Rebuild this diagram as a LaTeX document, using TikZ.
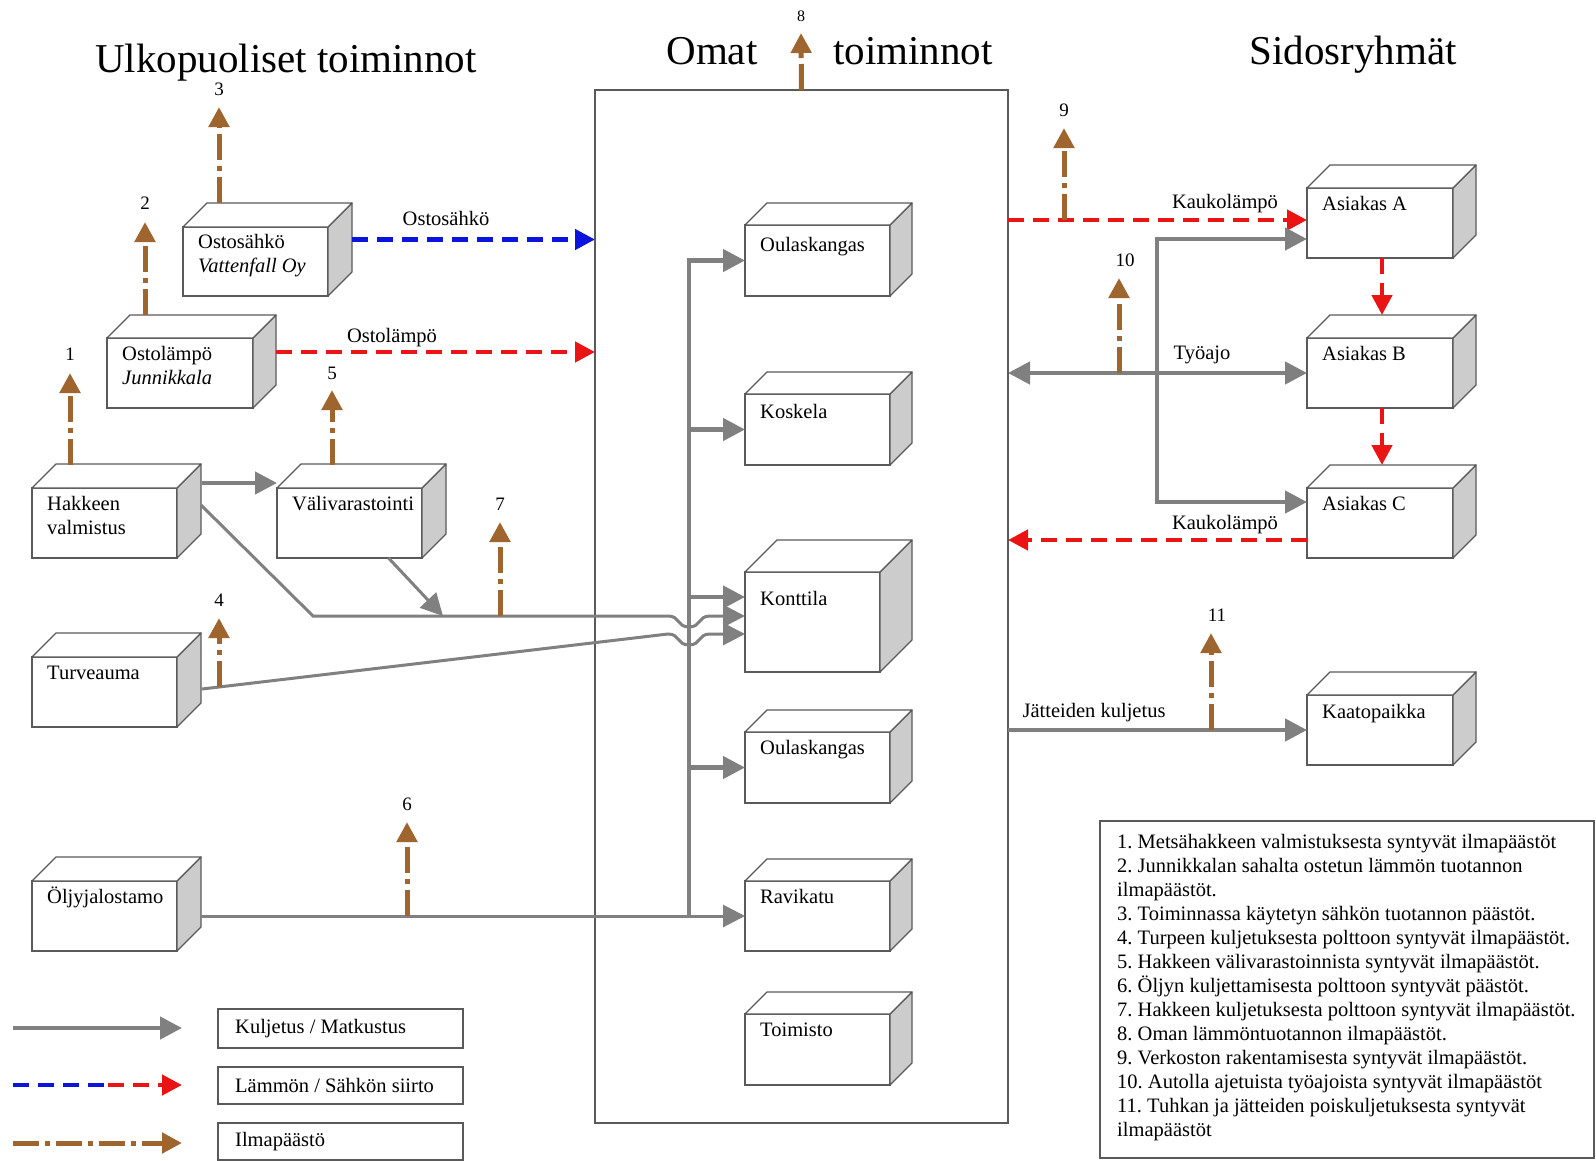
\documentclass[tikz,border=0pt]{standalone}
\usepackage{fontspec}
\setmainfont{Liberation Serif}
\usetikzlibrary{arrows.meta,calc}
\frenchspacing

\definecolor{tgray}{RGB}{128,128,128}
\definecolor{hred}{RGB}{235,20,20}
\definecolor{eblue}{RGB}{10,20,220}
\definecolor{ebrown}{RGB}{158,101,47}
\definecolor{sidegray}{RGB}{204,204,204}
\definecolor{edgegray}{RGB}{90,90,90}

\newcommand\labelfont{\fontsize{20.5pt}{24pt}\selectfont}
\newcommand\numfont{\fontsize{19pt}{22pt}\selectfont}
\newcommand\titlefont{\fontsize{41pt}{48pt}\selectfont}

% 3-D box: #1 name, #2 left, #3 top, #4 width, #5 height, #6 depth,
% #7 offset of the last text baseline below the top edge, #8 text
\newcommand\cubebox[8]{%
  \node[cubefront, minimum width=#4, minimum height=#5] (#1) at (#2,#3) {};
  \filldraw[cubeedge, fill=sidegray] (#1.north east) -- ++(#6,-#6)
     -- ([shift={(#6,-#6)}]#1.south east) -- (#1.south east) -- cycle;
  \filldraw[cubeedge, fill=white] (#1.north west) -- ++(#6,-#6)
     -- ([shift={(#6,-#6)}]#1.north east) -- (#1.north east) -- cycle;
  \node[cubetext] (#1-t) at ([shift={(15,#7)}]#1.north west) {#8};
}

\begin{document}
\begin{tikzpicture}[x=1pt,y=-1pt,
  cubefront/.style={draw=edgegray, line width=1.3pt, fill=white, inner sep=0pt,
                    outer sep=0pt, anchor=north west},
  cubeedge/.style={draw=edgegray, line width=1.3pt, line join=round},
  cubetext/.style={anchor=base west, align=left, inner sep=0pt, font=\labelfont},
  trans/.style={draw=tgray, line width=4.5pt, >={Triangle[length=22pt,width=22pt]}, ->},
  transthin/.style={trans, line width=3pt},
  heat/.style={draw=hred, line width=4.5pt, dash pattern=on 16pt off 9pt,
               >={Triangle[length=20pt,width=20pt]}, ->},
  elec/.style={heat, draw=eblue},
  emis/.style={draw=ebrown, line width=5pt, dash pattern=on 26pt off 6pt on 5pt off 6pt,
               >={Triangle[length=20pt,width=20pt]}, ->},
  num/.style={anchor=base, inner sep=0pt, font=\numfont},
  lbl/.style={anchor=base, inner sep=0pt, font=\labelfont},
  title/.style={anchor=base, inner sep=0pt, font=\titlefont},
  legbox/.style={draw=edgegray, line width=1.3pt, inner sep=0pt, outer sep=0pt,
                 anchor=north west},
]
\useasboundingbox (0,0) rectangle (1596,1160);
\fill[white] (0,0) rectangle (1596,1160);

% headings
\node[title] (h-ext) at (286,72) {Ulkopuoliset toiminnot};
\node[title] (h-own1) at (712,64) {Omat};
\node[title] (h-own2) at (913,64) {toiminnot};
\node[title] (h-grp) at (1353,64) {Sidosryhmät};

% own operations frame
\node[draw=edgegray, line width=1.3pt, minimum width=413, minimum height=1033,
      inner sep=0pt, outer sep=0pt, anchor=north west] (own) at (595,90) {};

% external units
\cubebox{ostos}{183}{227}{145}{69}{24}{45}{Ostosähkö\\\textit{Vattenfall Oy}}
\cubebox{ostol}{107}{338}{146}{70}{23}{46}{Ostolämpö\\\textit{Junnikkala}}
\cubebox{hak}{32}{488}{145}{70}{24}{46}{Hakkeen\\valmistus}
\cubebox{vali}{277}{488}{145}{70}{24}{22}{Välivarastointi}
\cubebox{turve}{32}{657}{145}{70}{24}{22}{Turveauma}
\cubebox{olj}{32}{881}{145}{70}{24}{22}{Öljyjalostamo}

% own plants
\cubebox{oul1}{745}{225}{145}{71}{22}{26}{Oulaskangas}
\cubebox{kosk}{745}{394}{145}{71}{22}{24}{Koskela}
\cubebox{kont}{745}{572}{135}{100}{32}{33}{Konttila}
\cubebox{oul2}{745}{732}{145}{71}{22}{22}{Oulaskangas}
\cubebox{rav}{745}{881}{145}{70}{22}{22}{Ravikatu}
\cubebox{toim}{745}{1014}{145}{71}{22}{22}{Toimisto}

% stakeholders
\cubebox{asA}{1307}{188}{146}{70}{23}{22}{Asiakas A}
\cubebox{asB}{1307}{338}{146}{70}{23}{22}{Asiakas B}
\cubebox{asC}{1307}{488}{146}{70}{23}{22}{Asiakas C}
\cubebox{kaato}{1307}{695}{146}{70}{23}{23}{Kaatopaikka}

% purchased energy
\draw[elec] ($(ostos.east)+(24,-22)$) -- ($(own.west |- ostos.east)+(0,-22)$);
\node[lbl] (l-ostos) at (446,225) {Ostosähkö};
\draw[heat] ($(ostol.east)+(23,-21)$) -- ($(own.west |- ostol.east)+(0,-21)$);
\node[lbl] (l-ostol) at (392,342) {Ostolämpö};

% fuel transport
\draw[trans] ($(hak.east)+(25,-40)$) -- ($(vali.west)+(0,-40)$);
\coordinate (bus) at (689,0);
\draw[trans] (rav.west -| bus) -- (oul1.west -| bus) -- (oul1.west);
\draw[trans] (kosk.west -| bus) -- (kosk.west);
\draw[trans] ($(kont.west -| bus)+(0,-25)$) -- ($(kont.west)+(0,-25)$);
\draw[trans] (oul2.west -| bus) -- (oul2.west);
\draw[transthin] ($(hak.east)+(24,-18)$) -- (313,616) -- (668,616)
   .. controls (680,616) and (677,627) .. (689,627)
   .. controls (701,627) and (698,616) .. (710,616) -- ($(kont.west)+(0,-6)$);
\coordinate (v-join) at (443,616);
\draw[transthin] ($(vali.south)+(39,0)$) -- (v-join);
\draw[transthin] ($(turve.east)+(25,-3)$) -- (668,634)
   .. controls (680,634) and (677,645) .. (689,645)
   .. controls (701,645) and (698,634) .. (710,634) -- ($(kont.west)+(0,12)$);
\draw[transthin] ($(olj.east)+(24,0)$) -- (rav.west);

% deliveries and traffic on the right
\draw[heat] ($(own.north east)+(0,130)$) -- ($(asA.west)+(0,-3)$);
\node[lbl] (l-kl1) at (1225,208) {Kaukolämpö};
\draw[trans, <->] (own.east |- asB.west) -- (asB.west);
\node[lbl] (l-tyo) at (1202,359) {Työajo};
\coordinate (tj) at ($(asB.west)+(-150,0)$);
\draw[trans] (tj) |- ($(asA.west)+(0,16)$);
\draw[trans] (tj) |- ($(asC.west)+(0,-21)$);
\draw[heat] ($(asA.south)+(2,0)$) -- ($(asB.north)+(2,-23)$);
\draw[heat] ($(asB.south)+(2,0)$) -- ($(asC.north)+(2,-23)$);
\draw[heat] ($(asC.west)+(0,17)$) -- ($(own.east |- asC.west)+(0,17)$);
\node[lbl] (l-kl2) at (1225,529) {Kaukolämpö};
\draw[trans] (own.east |- kaato.west) -- (kaato.west);
\node[lbl] (l-jat) at (1094,717) {Jätteiden kuljetus};

% emissions
\coordinate (e1) at (70,373);
\draw[emis] ($(hak.north west)+(38,-23)$) -- (e1);
\node[num] (n1) at (70,360) {1};
\coordinate (e2) at (145,222);
\draw[emis] ($(ostol.north west)+(38,-23)$) -- (e2);
\node[num] (n2) at (145,209) {2};
\coordinate (e3) at (219,107);
\draw[emis] ($(ostos.north west)+(36,-24)$) -- (e3);
\node[num] (n3) at (219,95) {3};
\coordinate (e4s) at (219,687);
\coordinate (e4) at (219,618);
\draw[emis] (e4s) -- (e4);
\node[num] (n4) at (219,606) {4};
\coordinate (e5) at (332,390);
\draw[emis] ($(vali.north west)+(55,-23)$) -- (e5);
\node[num] (n5) at (332,379) {5};
\coordinate (e6s) at (407,916);
\coordinate (e6) at (407,822);
\draw[emis] (e6s) -- (e6);
\node[num] (n6) at (407,810) {6};
\coordinate (e7s) at (500,616);
\coordinate (e7) at (500,522);
\draw[emis] (e7s) -- (e7);
\node[num] (n7) at (500,510) {7};
\coordinate (e8) at (801,33);
\draw[emis] (own.north) -- (e8);
\node[num, font=\fontsize{16pt}{18pt}\selectfont] (n8) at (801,21) {8};
\coordinate (e9s) at (1064,220);
\coordinate (e9) at (1064,128);
\draw[emis] (e9s) -- (e9);
\node[num] (n9) at (1064,116) {9};
\coordinate (e10s) at (1119,373);
\coordinate (e10) at (1119,278);
\draw[emis] (e10s) -- (e10);
\node[num] (n10) at (1125,266) {10};
\coordinate (e11s) at (1211,730);
\coordinate (e11) at (1211,633);
\draw[emis] (e11s) -- (e11);
\node[num] (n11) at (1217,621) {11};

% key to the line types
\coordinate (k1a) at (13,1028);
\coordinate (k1b) at (182,1028);
\draw[trans] (k1a) -- (k1b);
\coordinate (k2a) at (13,1085);
\coordinate (k2m) at (108,1085);
\coordinate (k2b) at (182,1085);
\draw[elec, -] (k2a) -- (k2m);
\draw[heat] (k2m) -- (k2b);
\coordinate (k3a) at (13,1143);
\coordinate (k3b) at (182,1143);
\draw[emis] (k3a) -- (k3b);
\node[legbox, minimum width=245, minimum height=39] (key1) at (218,1009) {};
\node[lbl, anchor=west] (key1-t) at ([xshift=17pt]key1.west) {Kuljetus / Matkustus};
\node[legbox, minimum width=245, minimum height=37] (key2) at (218,1067) {};
\node[lbl, anchor=west] (key2-t) at ([xshift=17pt]key2.west) {Lämmön / Sähkön siirto};
\node[legbox, minimum width=245, minimum height=37] (key3) at (218,1123) {};
\node[lbl, anchor=west] (key3-t) at ([xshift=17pt]key3.west) {Ilmapäästö};

% numbered emission list
\node[legbox, minimum width=494, minimum height=337] (notes) at (1100,821) {};
\node[anchor=north west, align=left, inner sep=0pt, font=\labelfont] (notes-t) at (1117,834)
{1. Metsähakkeen valmistuksesta syntyvät ilmapäästöt\\
2. Junnikkalan sahalta ostetun lämmön tuotannon\\
ilmapäästöt.\\
3. Toiminnassa käytetyn sähkön tuotannon päästöt.\\
4. Turpeen kuljetuksesta polttoon syntyvät ilmapäästöt.\\
5. Hakkeen välivarastoinnista syntyvät ilmapäästöt.\\
6. Öljyn kuljettamisesta polttoon syntyvät päästöt.\\
7. Hakkeen kuljetuksesta polttoon syntyvät ilmapäästöt.\\
8. Oman lämmöntuotannon ilmapäästöt.\\
9. Verkoston rakentamisesta syntyvät ilmapäästöt.\\
10. Autolla ajetuista työajoista syntyvät ilmapäästöt\\
11. Tuhkan ja jätteiden poiskuljetuksesta syntyvät\\
ilmapäästöt};
\end{tikzpicture}
\end{document}
